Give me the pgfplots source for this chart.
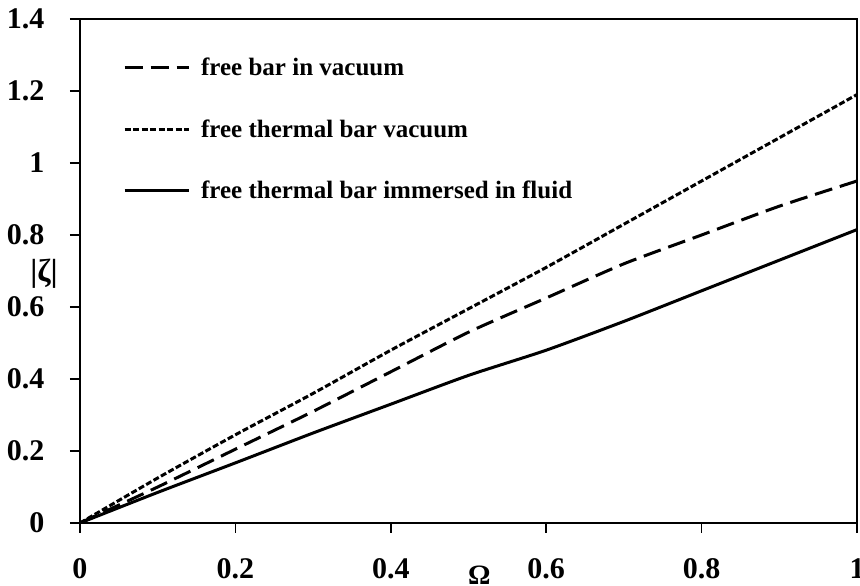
\documentclass[border=0pt]{standalone}
\usepackage{fontspec}
\setmainfont{Liberation Serif}
\usepackage{pgfplots}
\pgfplotsset{compat=1.18}
\begin{document}
\begin{tikzpicture}
\begin{axis}[
  scale only axis,
  width=777pt, height=504pt,
  xmin=0, xmax=1, ymin=0, ymax=1.4,
  xtick={0,0.2,0.4,0.6,0.8,1},
  ytick={0,0.2,0.4,0.6,0.8,1,1.2,1.4},
  xticklabels={0,0.2,0.4,0.6,0.8,1},
  yticklabels={0,0.2,0.4,0.6,0.8,1,1.2,1.4},
  tick pos=left,
  tick align=outside,
  major tick length=10pt,
  axis line style={line width=1.6pt},
  every tick/.style={line width=1.6pt, black},
  tick label style={font=\bfseries\fontsize{30}{30}\selectfont},
  yticklabel style={xshift=-22pt},
  xticklabel style={yshift=-22pt},
  xlabel={\bfseries\fontsize{28}{28}\selectfont Ω},
  xlabel style={at={(rel axis cs:0.514,0)}, anchor=center, yshift=-52pt},
  ylabel={\bfseries\fontsize{32}{32}\selectfont |ζ|},
  ylabel style={at={(rel axis cs:0,0.494)}, anchor=center, rotate=-90, xshift=-36pt},
  legend cell align=left,
  legend style={draw=none, fill=none, at={(rel axis cs:0.0553,0.927)}, anchor=north west,
    font=\bfseries\fontsize{25}{25}\selectfont, row sep=38.5pt, inner sep=0pt},
  legend image code/.code={\draw[#1] (0pt,0pt) -- (64pt,0pt); \path (73pt,0pt);},
]
\addplot[black, line width=3pt, dash pattern=on 18pt off 8pt, smooth, tension=0.4] coordinates {
(0,0) (0.1,0.1) (0.2,0.205) (0.3,0.31) (0.4,0.42) (0.5,0.53) (0.6,0.625) (0.7,0.72) (0.8,0.80) (0.9,0.88) (1,0.95)};
\addlegendentry{free bar in vacuum}
\addplot[black, line width=3pt, dash pattern=on 6pt off 2.5pt, smooth, tension=0.4] coordinates {
(0,0) (0.1,0.125) (0.2,0.245) (0.3,0.36) (0.4,0.48) (0.5,0.595) (0.6,0.71) (0.7,0.83) (0.8,0.95) (0.9,1.07) (1,1.19)};
\addlegendentry{free thermal bar vacuum}
\addplot[black, line width=3pt, smooth, tension=0.4] coordinates {
(0,0) (0.1,0.085) (0.2,0.167) (0.3,0.25) (0.4,0.33) (0.5,0.41) (0.6,0.48) (0.7,0.56) (0.8,0.645) (0.9,0.73) (1,0.815)};
\addlegendentry{free thermal bar immersed in fluid}
\end{axis}
\pgfresetboundingbox
\path (current axis.south west) ++(-80pt,-63pt) coordinate (bbA);
\path (current axis.north east) ++(3pt,19pt) coordinate (bbB);
\path[use as bounding box] (bbA) rectangle (bbB);
\end{tikzpicture}
\end{document}
